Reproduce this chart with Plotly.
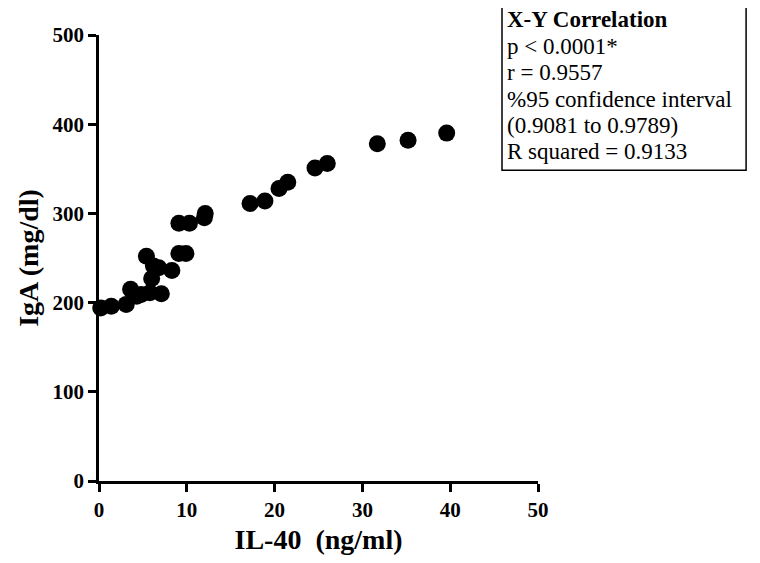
import plotly.graph_objects as go

# IL-40 (ng/ml) vs IgA (mg/dl)
il40 = [0.2, 1.4, 3.1, 3.6, 4.3, 4.8, 5.4, 5.8, 6.0, 6.2, 6.8, 7.1, 8.3,
        9.1, 9.9, 9.1, 10.3, 12.0, 12.1, 17.2, 18.9, 20.5, 21.5, 24.6, 26.0,
        31.7, 35.2, 39.6]
iga = [194, 196, 198, 215, 207, 209, 252, 211, 227, 241, 239, 210, 236,
       255, 255, 289, 289, 295, 300, 311, 314, 328, 335, 351, 356,
       378, 382, 390]

x_ticks = [0, 10, 20, 30, 40, 50]
y_ticks = [0, 100, 200, 300, 400, 500]

stats_lines = [
    "<b>X-Y Correlation</b>",
    "p < 0.0001*",
    "r = 0.9557",
    "%95 confidence interval",
    "(0.9081 to 0.9789)",
    "R squared = 0.9133",
]

serif = "Liberation Serif"

fig = go.Figure()
fig.add_trace(go.Scatter(
    x=il40, y=iga, mode="markers",
    marker=dict(size=17, color="black", line=dict(width=0)),
    cliponaxis=False,
    showlegend=False,
))

axis_common = dict(
    showgrid=False, zeroline=False,
    showline=True, linecolor="black", linewidth=2.5,
    ticks="outside", ticklen=8, tickwidth=2.5, tickcolor="black",
    tickfont=dict(family=serif, size=21, color="black", weight="bold"),
)

fig.update_xaxes(
    range=[0, 50], tickvals=x_ticks,
    title=dict(text="<b>IL-40  (ng/ml)</b>", standoff=9,
               font=dict(family=serif, size=28, color="black")),
    **axis_common,
)
fig.update_yaxes(
    range=[0, 500], tickvals=y_ticks,
    title=dict(text="<b>IgA (mg/dl)</b>", standoff=6,
               font=dict(family=serif, size=28, color="black")),
    **axis_common,
)

# correlation stats box
fig.add_shape(type="rect", xref="paper", yref="paper",
              x0=0.918, x1=1.474, y0=0.697, y1=1.0735,
              line=dict(color="black", width=1.5), fillcolor="white")
# one annotation per line so the line spacing can follow the reference
line_step = 26.6 / 449
for i, line in enumerate(stats_lines):
    fig.add_annotation(
        xref="paper", yref="paper", x=0.925, y=1.034 - i * line_step,
        xanchor="left", yanchor="middle", align="left", showarrow=False,
        text=line,
        font=dict(family=serif, size=23, color="black"),
    )

fig.update_layout(
    width=752, height=555,
    margin=dict(l=91, r=222, t=27, b=73),
    paper_bgcolor="white", plot_bgcolor="white",
)

fig.write_html("out.html")
